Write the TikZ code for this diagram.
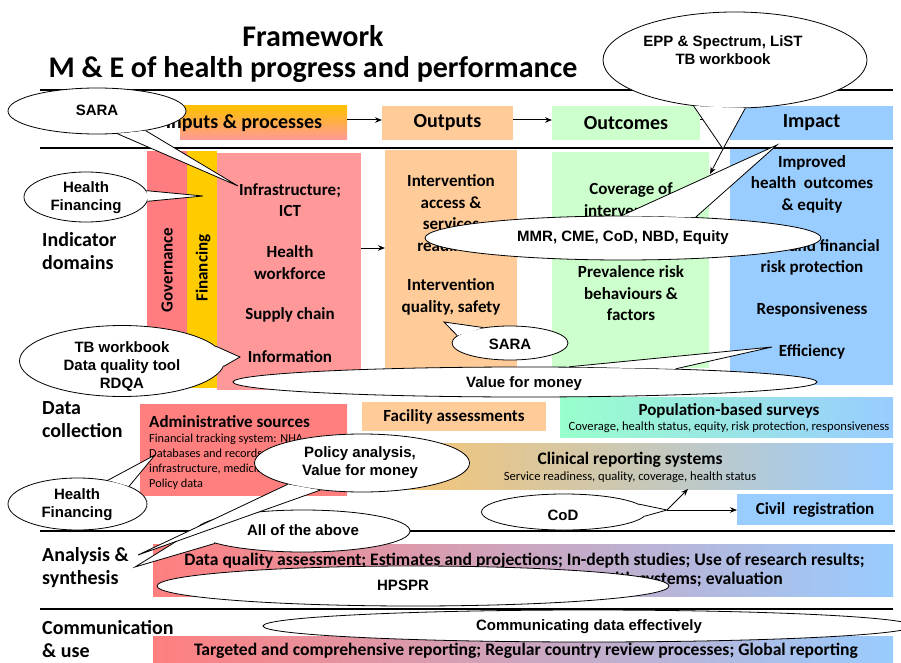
\documentclass[tikz,border=0pt]{standalone}
\usepackage{fontspec}
\setmainfont{Carlito}
\newfontfamily\arialf{Liberation Sans}
\usetikzlibrary{arrows.meta,shapes.geometric}
\definecolor{gov}{HTML}{FF7C80}
\definecolor{fin}{HTML}{FFCC00}
\definecolor{inp}{HTML}{FF9999}
\definecolor{outp}{HTML}{FFCC99}
\definecolor{outc}{HTML}{CCFFCC}
\definecolor{imp}{HTML}{99CCFF}
\definecolor{redg}{HTML}{FF7F7F}
\definecolor{gold}{HTML}{FFC000}
\definecolor{mint}{HTML}{99FFCC}
\definecolor{clinl}{HTML}{FFC466}
\definecolor{admmid}{HTML}{FFC75F}
\newcommand\bubble[7]{%
  \node[bub, minimum width=#3pt, minimum height=#4pt] (#1) at (#2) {};
  \draw[bubline] (#1.#5) -- (#7) -- (#1.#6);
}
\begin{document}
\begin{tikzpicture}[x=1pt,y=-1pt,
  box/.style={inner sep=0pt, outer sep=0pt, anchor=north west},
  btxt/.style={font=\bfseries\fontsize{17}{21.5}\selectfont, align=center, inner sep=0pt},
  htxt/.style={font=\bfseries\fontsize{20}{24}\selectfont, inner sep=0pt},
  ltxt/.style={font=\bfseries\fontsize{20}{23}\selectfont, align=left, anchor=west, inner sep=0pt},
  stxt/.style={font=\fontsize{12.3}{15}\selectfont, align=left, inner sep=0pt},
  sub/.style={font=\fontsize{12.6}{14}\selectfont, inner sep=0pt},
  bandtxt/.style={font=\bfseries\fontsize{17.6}{19}\selectfont, inner sep=0pt},
  bub/.style={ellipse, draw=black, fill=white, line width=0.8pt, inner sep=0pt},
  bubline/.style={draw=black, fill=white, line width=0.8pt},
  btext/.style={font=\arialf\bfseries\fontsize{15}{18}\selectfont, align=center, inner sep=0pt},
  rule/.style={line width=1.6pt},
  arr/.style={-{Stealth[length=7pt,width=5.5pt]}, line width=1pt},
]
\useasboundingbox (0,0) rectangle (901,663);

% ---------- title
\node[font=\bfseries\fontsize{30}{34}\selectfont, inner sep=0pt] (t1) at (313,36) {Framework};
\node[font=\bfseries\fontsize{30}{34}\selectfont, inner sep=0pt] (t2) at (313,70) {M \& E of health progress and performance};

% ---------- rules
\coordinate (r1a) at (40,90);  \coordinate (r1b) at (893,90);
\coordinate (r2a) at (40,148); \coordinate (r2b) at (893,148);
\coordinate (r3a) at (40,531); \coordinate (r3b) at (895,531);
\coordinate (r4a) at (40,609); \coordinate (r4b) at (893,609);
\draw[rule] (r1a) -- (r1b);
\draw[rule] (r2a) -- (r2b);
\draw[rule] (r3a) -- (r3b);
\draw[rule] (r4a) -- (r4b);

% ---------- header row
\node[box, top color=gold, bottom color=inp, minimum width=167pt, minimum height=34pt] (hinp) at (180,106) {};
\node[htxt] (hinpt) at (244,123) {Inputs \& processes};
\node[box, fill=outp, minimum width=131pt, minimum height=34pt] (hout) at (382,106) {};
\node[htxt] at (hout) {Outputs};
\node[box, fill=outc, minimum width=148pt, minimum height=34pt] (hoc) at (552,106) {};
\node[htxt] at (hoc) {Outcomes};
\node[box, fill=imp, minimum width=163pt, minimum height=34pt] (himp) at (730,106) {};
\node[htxt] at (himp) {Impact};
\draw[arr] (hinp.east |- 0,120) -- (hout.west |- 0,120);
\draw[arr] (hout.east |- 0,120) -- (hoc.west |- 0,120);
\draw[arr] (hoc.east |- 0,120) -- (himp.west |- 0,120);

% ---------- indicator domains
\node[ltxt] (lab1) at (42,251.5) {Indicator\\domains};
\node[box, fill=gov, minimum width=40pt, minimum height=237pt] (gov) at (147,151) {};
\node[btxt, rotate=90] at (167,270) {Governance};
\node[box, fill=fin, minimum width=30pt, minimum height=237pt] (fin) at (187,151) {};
\node[btxt, rotate=90] at (203,268) {Financing};
\node[box, fill=inp, minimum width=144pt, minimum height=237pt] (inpb) at (217,153) {};
\node[btxt] (i1) at (290,200) {Infrastructure;\\ICT};
\node[btxt] (i2) at (290,262.5) {Health\\workforce};
\node[btxt] (i3) at (290,315) {Supply chain};
\node[btxt] (i4) at (290,357) {Information};
\node[box, fill=outp, minimum width=132pt, minimum height=218pt] (outb) at (385,150) {};
\node[btxt] (o1) at (451,213) {Intervention\\access \&\\services\\readiness};
\node[btxt] (o2) at (451,297) {Intervention\\quality, safety};
\node[box, fill=outc, minimum width=157pt, minimum height=216pt] (ocb) at (552,152) {};
\node[btxt] (c1) at (631,199.5) {Coverage of\\interventions};
\node[btxt] (c2) at (631,293.5) {Prevalence risk\\behaviours \&\\factors};
\node[box, fill=imp, minimum width=163pt, minimum height=236pt] (impb) at (730,149) {};
\node[btxt] (m1) at (812,184) {Improved\\health\ \ outcomes\\\& equity};
\node[btxt] (m2) at (812,257.5) {Social and financial\\risk protection};
\node[btxt] (m3) at (812,310) {Responsiveness};
\node[btxt] (m4) at (812,352) {Efficiency};
\coordinate (ia) at (361,248);
\draw[arr] (ia) -- (outb.west |- ia);

% ---------- data collection
\node[ltxt] (lab2) at (42,419.5) {Data\\collection};
\node[box, top color=redg, middle color=admmid, bottom color=redg, minimum width=207pt, minimum height=91pt] (adm) at (140,404) {};
\node[btxt, anchor=west] at (149,422) {Administrative sources};
\node[stxt, anchor=west] at (149,461.5) {Financial tracking system: NHA\\Databases and records: HR,\\infrastructure, medicines etc.\\Policy data};
\node[box, fill=outp, minimum width=184pt, minimum height=29pt] (fac) at (362,402) {};
\node[btxt] at (fac) {Facility assessments};
\node[box, left color=mint, right color=imp, minimum width=333pt, minimum height=40pt] (pop) at (560,397) {};
\node[btxt] at (729,411) {Population-based surveys};
\node[sub] at (729,427) {Coverage, health status, equity, risk protection, responsiveness};
\node[box, left color=clinl, right color=imp, minimum width=543pt, minimum height=46pt] (clin) at (350,443) {};
\node[btxt, font=\bfseries\fontsize{17.5}{21.5}\selectfont] at (630,460) {Clinical reporting systems};
\node[sub] at (630,477) {Service readiness, quality, coverage, health status};
\node[box, fill=imp, minimum width=156pt, minimum height=31pt] (civ) at (737,494) {};
\node[btxt] at (civ) {Civil\ \ registration};

% ---------- analysis & synthesis
\node[ltxt] (lab3) at (42,567.5) {Analysis \&\\synthesis};
\node[box, left color=redg, right color=imp, minimum width=740pt, minimum height=52pt] (anb) at (153,544) {};
\node[bandtxt] at (524.5,561) {Data quality assessment; Estimates and projections; In-depth studies; Use of research results;};
\node[bandtxt, anchor=east] at (783,580) {Assessment of progress and performance of health systems; evaluation};

% ---------- communication & use
\node[ltxt] (lab4) at (42,639) {Communication\\\& use};
\node[box, left color=redg, right color=imp, minimum width=740pt, minimum height=27pt] (comb) at (153,636) {};
\node[bandtxt] at (526,651) {Targeted and comprehensive reporting; Regular country review processes; Global reporting};

% ---------- callouts
\coordinate (tp1) at (238,186);
\bubble{b1}{97,111}{178}{46}{-48}{-22}{tp1}
\node[btext] at (97,110) {SARA};

\coordinate (tp2) at (203,196);
\bubble{b2}{86,197}{124}{50}{6}{-4}{tp2}
\node[btext] at (86,198) {Health\\Financing};

\coordinate (tp3) at (240,357);
\bubble{b3}{122,361}{205}{71}{9}{-3}{tp3}
\node[btext] at (122,366.5) {TB workbook\\Data quality tool\\RDQA};

\coordinate (tp4) at (723,149);
\bubble{b4}{735,60}{264}{96}{-132}{-78}{tp4}
\node[btext] at (723,50.5) {EPP \& Spectrum, LiST\\TB workbook};
\coordinate (tp4b) at (710,174);
\draw[arr, line width=0.8pt] (tp4) -- (tp4b);

\coordinate (tp5) at (777,145);
\bubble{b5}{623,238}{396}{44}{93}{16}{tp5}
\node[btext] at (623,238) {MMR, CME, CoD, NBD, Equity};

\coordinate (tp6) at (444,322);
\bubble{b6}{510,343}{116}{34}{172}{150}{tp6}
\node[btext] at (510,344) {SARA};

\coordinate (tp7) at (772,347);
\bubble{b7}{525,382}{584}{30}{19.4}{5.1}{tp7}
\node[btext] at (524,384) {Value for money};

\coordinate (tp8) at (155,455);
\bubble{b8}{77.5,504}{139}{52}{38.5}{19.5}{tp8}
\node[btext] at (77,505) {Health\\Financing};

\coordinate (tp10) at (135,567);
\bubble{b10}{303,531}{214}{42}{179}{-172}{tp10}
\node[btext] at (303,530) {All of the above};

\coordinate (tp9) at (138,555);
\bubble{b9}{362,463}{215}{58}{-164.5}{-147.6}{tp9}
\node[btext] at (360,463) {Policy analysis,\\Value for money};

\node[bub, minimum width=512pt, minimum height=40pt] (b11) at (413,586) {};
\node[btext] at (403,585) {HPSPR};

\node[bub, minimum width=650pt, minimum height=32pt] (b12) at (588,626) {};
\node[btext] at (589,627) {Communicating data effectively};

\coordinate (tp13) at (667,510);
\bubble{b13}{564,512}{165}{36}{6}{-3}{tp13}
\node[btext] at (563,515) {CoD};
\draw[arr, line width=0.8pt] (tp13) -- (clin.south -| 688,0);
\draw[arr, line width=0.8pt] (tp13) -- (civ.west |- tp13);
\end{tikzpicture}
\end{document}
